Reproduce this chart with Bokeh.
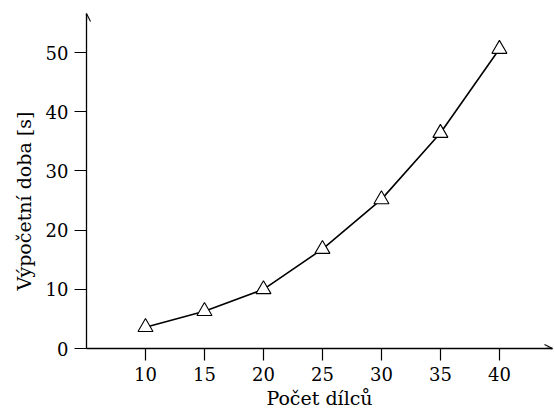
from bokeh.plotting import figure
from bokeh.models import Range1d, FixedTicker, Arrow, OpenHead, Title
from bokeh.embed import file_html
from bokeh.resources import INLINE

parts = [10, 15, 20, 25, 30, 35, 40]
times = [3.6, 6.3, 10.0, 16.8, 25.2, 36.4, 50.6]
x_ticks = [10, 15, 20, 25, 30, 35, 40]
y_ticks = [0, 10, 20, 30, 40, 50]
x_title = "Počet dílců"
y_title = "Výpočetní doba [s]"

FONT = "DejaVu Serif"

p = figure(width=554, height=414, output_backend="svg", toolbar_location=None,
           x_range=Range1d(5, 44.5), y_range=Range1d(0, 56.6),
           min_border_left=86, min_border_right=2, min_border_top=13, min_border_bottom=66)
p.outline_line_color = None
p.grid.visible = False
p.background_fill_color = "white"

for ax in (p.xaxis[0], p.yaxis[0]):
    ax.major_tick_in = 0
    ax.major_tick_out = 12
    ax.minor_tick_line_color = None
    ax.axis_line_color = "black"
    ax.axis_line_width = 1.3
    ax.major_tick_line_color = "black"
    ax.major_tick_line_width = 1.2
    ax.major_label_text_font = FONT
    ax.major_label_text_font_size = "18px"
    ax.major_label_text_color = "black"
    ax.axis_label_text_font = FONT
    ax.axis_label_text_font_size = "19px"
    ax.axis_label_text_font_style = "normal"
    ax.axis_label_text_color = "black"
    ax.major_label_standoff = 6

p.xaxis[0].ticker = FixedTicker(ticks=x_ticks)
p.yaxis[0].ticker = FixedTicker(ticks=y_ticks)
p.xaxis[0].axis_label = x_title
p.xaxis[0].axis_label_standoff = 3

# y title as a side Title so it can be shifted along the axis like the reference
p.add_layout(Title(text=y_title, align="left", offset=58, standoff=16,
                   text_font=FONT, text_font_size="19px", text_font_style="normal",
                   text_color="black"), "left")

p.line(parts, times, line_color="black", line_width=1.6)
p.scatter(parts, times, marker="triangle", size=15, fill_color="white",
          line_color="black", line_width=1.1)

p.add_layout(Arrow(end=OpenHead(size=8, line_width=1.1, line_color="black"),
                   x_start=44.0, y_start=0, x_end=44.5, y_end=0,
                   line_color="black", line_width=1.3))
p.add_layout(Arrow(end=OpenHead(size=8, line_width=1.1, line_color="black"),
                   x_start=5, y_start=55.5, x_end=5, y_end=56.6,
                   line_color="black", line_width=1.3))

open("out.html", "w").write(file_html(p, INLINE))
